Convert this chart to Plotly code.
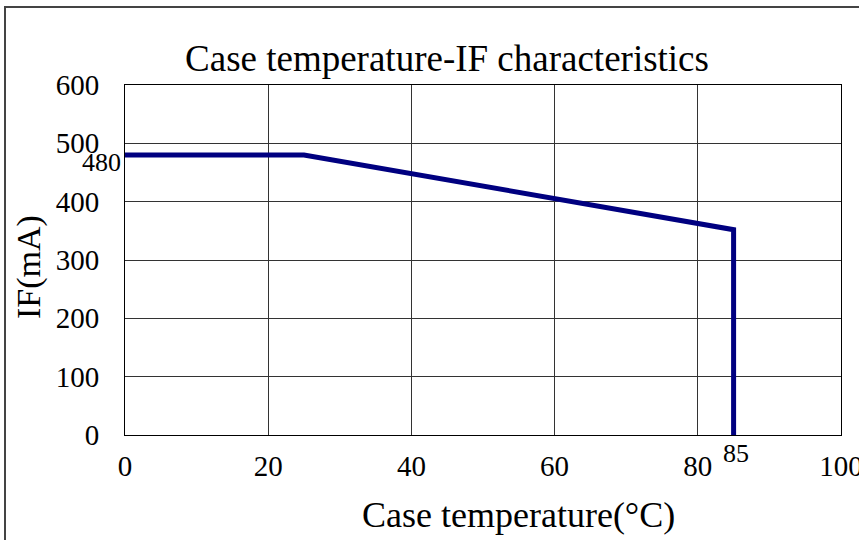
import plotly.graph_objects as go

temp_c = [0, 25, 85, 85]
if_ma = [480, 480, 352, 0]
x_ticks = [0, 20, 40, 60, 80, 100]
y_ticks = [0, 100, 200, 300, 400, 500, 600]

FONT = "Liberation Serif"
W, H = 859, 540
L, R, T, B = 125, 18, 85, 105
PW, PH = W - L - R, H - T - B


def px(xp):
    return (xp - L) / PW


def py(yp):
    return (H - B - yp) / PH


fig = go.Figure()
fig.add_trace(go.Scatter(x=temp_c, y=if_ma, mode="lines",
                         line=dict(color="#000080", width=5), showlegend=False,
                         cliponaxis=False))

fig.update_layout(
    width=W, height=H,
    margin=dict(l=L, r=R, t=T, b=B, autoexpand=False),
    paper_bgcolor="white", plot_bgcolor="white",
    font=dict(family=FONT, size=29, color="black"),
    title=dict(text="Case temperature-IF characteristics", x=447 / W, xref="container",
               xanchor="center", y=1 - 58 / H, yref="container", yanchor="middle",
               font=dict(family=FONT, size=37, color="black")),
    xaxis=dict(range=[0, 100], tickvals=x_ticks, showgrid=True, gridcolor="#333", gridwidth=1,
               showline=True, linecolor="black", linewidth=1, mirror=True, zeroline=False,
               automargin=False,
               ticks="", ticklabelstandoff=5, ticklabeloverflow="allow", tickfont=dict(size=29)),
    yaxis=dict(range=[0, 600], tickvals=y_ticks, showgrid=True, gridcolor="#333", gridwidth=1,
               showline=True, linecolor="black", linewidth=1, mirror=True, zeroline=False,
               automargin=False,
               ticks="", ticklabelstandoff=19, ticklabeloverflow="allow", tickfont=dict(size=29)),
    shapes=[dict(type="rect", xref="paper", yref="paper",
                 x0=px(5), x1=px(W + 10), y0=py(H + 10), y1=py(7),
                 line=dict(color="#444", width=2), fillcolor="rgba(0,0,0,0)", layer="below")],
    annotations=[
        dict(x=px(518), y=py(515), xref="paper", yref="paper", text="Case temperature(°C)",
             showarrow=False, xanchor="center", yanchor="middle", font=dict(size=36)),
        dict(x=px(29), y=py(267), xref="paper", yref="paper", text="IF(mA)", textangle=-90,
             showarrow=False, xanchor="center", yanchor="middle", font=dict(size=34)),
        dict(x=0, y=480, xref="x", yref="y", text="480", showarrow=False,
             xanchor="right", yanchor="middle", xshift=-2, yshift=-7, font=dict(size=26)),
        dict(x=85, y=0, xref="x", yref="y", text="85", showarrow=False,
             xanchor="center", yanchor="middle", xshift=2, yshift=-18, font=dict(size=26)),
    ],
)

fig.write_html("out.html", config={"displayModeBar": False},
               post_script="document.body.style.margin='0';")
